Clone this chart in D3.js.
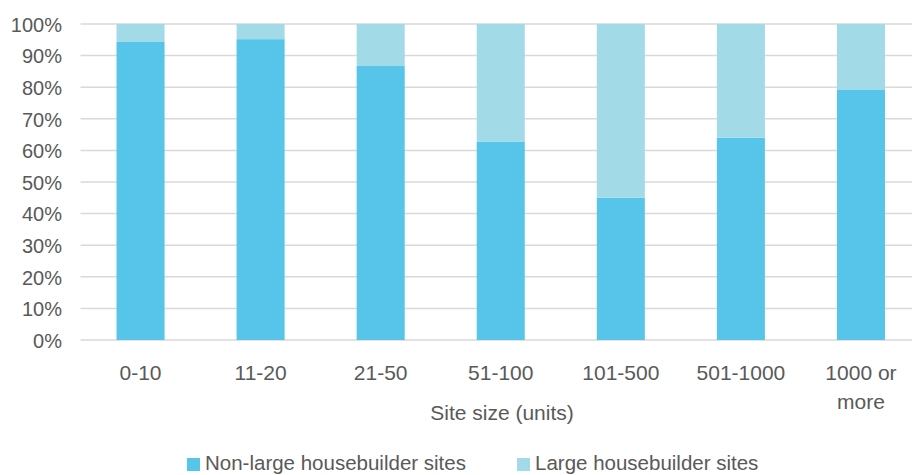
<!DOCTYPE html>
<html>
<head>
<meta charset="utf-8">
<script src="https://cdn.jsdelivr.net/npm/d3@7"></script>
<style>
  html, body { margin: 0; padding: 0; background: #fff; }
  svg { display: block; font-family: "Liberation Sans", Arial, sans-serif; }
</style>
</head>
<body>
<svg id="chart" width="912" height="475"></svg>
<script>
// Share of sites by site size, split by builder type (percent)
const categories = ["0-10", "11-20", "21-50", "51-100", "101-500", "501-1000", "1000 or more"];
const nonLarge = [94.3, 95.2, 86.7, 62.8, 45.0, 64.0, 79.3];
const large = nonLarge.map(v => 100 - v);
const seriesNames = ["Non-large housebuilder sites", "Large housebuilder sites"];
const seriesColors = ["#56C5E9", "#A2DAE8"];
const yTicks = [0, 10, 20, 30, 40, 50, 60, 70, 80, 90, 100];

const svg = d3.select("#chart");
const W = 912, H = 475;
const plot = { left: 80.5, right: 921, top: 24, bottom: 340 };

const x = d3.scaleBand().domain(categories).range([plot.left, plot.right]).paddingInner(0.6).paddingOuter(0.3);
const y = d3.scaleLinear().domain([0, 100]).range([plot.bottom, plot.top]);

// Gridlines
svg.append("g").selectAll("line").data(yTicks).join("line")
  .attr("x1", plot.left).attr("x2", W)
  .attr("y1", d => y(d)).attr("y2", d => y(d))
  .attr("stroke", "#D9D9D9").attr("stroke-width", 1.5);

// Y axis labels
const yAxis = d3.axisLeft(y).tickValues(yTicks).tickFormat(d => d + "%").tickSize(0).tickPadding(0);
const gy = svg.append("g").attr("transform", `translate(62,0)`).call(yAxis);
gy.select(".domain").remove();
gy.selectAll("text").attr("fill", "#595959").style("font-size", "20px").attr("dy", "0.36em");

// Stacked bars
const rows = categories.map((c, i) => ({ cat: c, nonLarge: nonLarge[i], large: large[i] }));
const stack = d3.stack().keys(["nonLarge", "large"])(rows);
svg.append("g").selectAll("g").data(stack).join("g")
  .attr("fill", (d, i) => seriesColors[i])
  .selectAll("rect").data(d => d).join("rect")
  .attr("x", d => x(d.data.cat))
  .attr("width", x.bandwidth())
  .attr("y", d => y(d[1]))
  .attr("height", d => y(d[0]) - y(d[1]));

// Category labels (last one wraps onto two lines)
const xAxis = d3.axisBottom(x).tickSize(0).tickPadding(0);
const gx = svg.append("g").attr("transform", `translate(0,${plot.bottom})`).call(xAxis);
gx.select(".domain").remove();
gx.selectAll(".tick text").each(function(d) {
  const t = d3.select(this).text("").attr("fill", "#595959").style("font-size", "21px").attr("y", 0).attr("dy", null);
  const lines = d === "1000 or more" ? ["1000 or", "more"] : [d];
  lines.forEach((ln, k) => t.append("tspan").attr("x", 0).attr("y", 40 + k * 29).text(ln));
});

// Axis title
svg.append("text").attr("x", 502).attr("y", 420).attr("text-anchor", "middle")
  .attr("fill", "#595959").style("font-size", "21px").text("Site size (units)");

// Legend
const legend = svg.append("g");
const legendX = [187, 517];
seriesNames.forEach((n, i) => {
  const g = legend.append("g").attr("transform", `translate(${legendX[i]},0)`);
  g.append("rect").attr("x", 0).attr("y", 458).attr("width", 13).attr("height", 13).attr("fill", seriesColors[i]);
  g.append("text").attr("x", 18).attr("y", 470).attr("fill", "#595959").style("font-size", "20.5px").text(n);
});
</script>
</body>
</html>
